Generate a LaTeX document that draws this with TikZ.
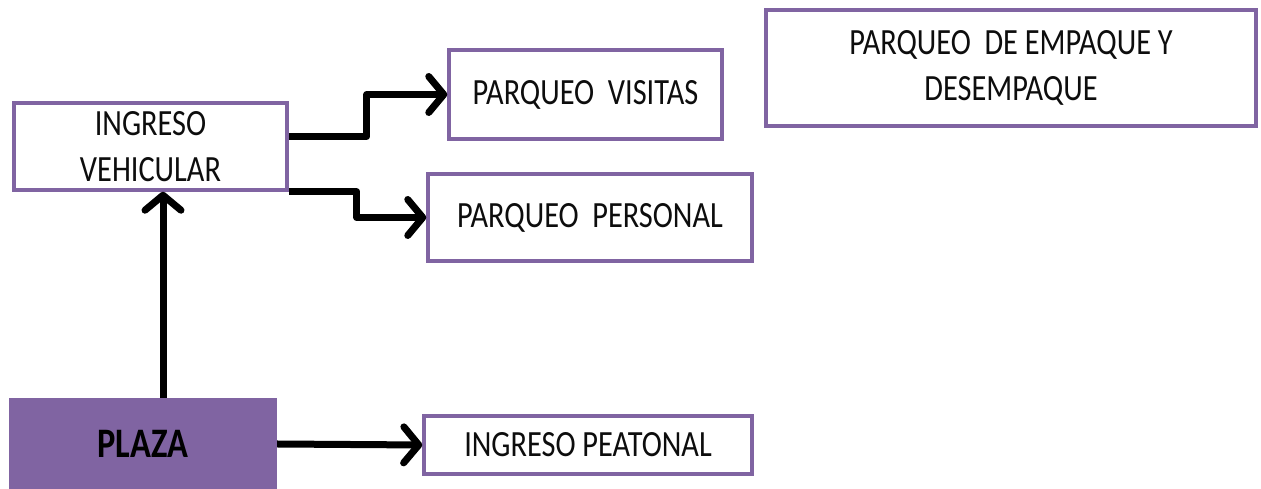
\documentclass[tikz,border=0pt]{standalone}
\usepackage{fontspec}
\setmainfont[FakeStretch=0.82]{Carlito}
\usepackage{xcolor}
\usepackage{tikz}
\usetikzlibrary{arrows.meta,shadows}
\definecolor{PZPurple}{HTML}{8064A2}
\definecolor{PZText}{HTML}{0D0D0D}

\begin{document}
\begin{tikzpicture}[x=1pt,y=1pt,
  box/.style={draw=PZPurple,line width=3.5pt,fill=white,inner sep=0pt,align=center,
    text=PZText,font=\fontsize{37}{46}\selectfont,
    drop shadow={shadow xshift=2pt,shadow yshift=-2pt,fill=black,opacity=.2}},
  plazabox/.style={fill=PZPurple,inner sep=0pt,text=black,font=\fontsize{42}{50}\selectfont\bfseries},
  link/.style={line width=7pt,line join=round,-{Straight Barb[length=15pt,width=36pt,line cap=round,line join=round]}}]
\path[use as bounding box] (0,0) rectangle (1261,489);
\node[box,minimum width=273,minimum height=87] (veh) at (150.5,342.5) {INGRESO\\VEHICULAR};
\node[box,minimum width=273,minimum height=89] (vis) at (585.5,394.5) {PARQUEO\ \ VISITAS};
\node[box,minimum width=324,minimum height=87] (per) at (590,271.5) {PARQUEO\ \ PERSONAL};
\node[box,minimum width=490,minimum height=116] (emp) at (1011,421) {PARQUEO\ \ DE EMPAQUE Y\\DESEMPAQUE};
\node[plazabox,minimum width=268,minimum height=92] (plaza) at (143,45) {PLAZA};
\node[box,minimum width=328,minimum height=58] (pea) at (588,44) {INGRESO PEATONAL};
% connectors
\draw[link] ([yshift=10pt]veh.east) -- ++(78,0) |- (vis.west);
\draw[link] (veh.south east) -- ++(68,0) |- (per.west);
\draw[link] ([xshift=20pt]plaza.north) -- ([xshift=20pt]plaza.north |- veh.south);
\draw[link] (plaza.east) -- (pea.west);
\end{tikzpicture}
\end{document}
